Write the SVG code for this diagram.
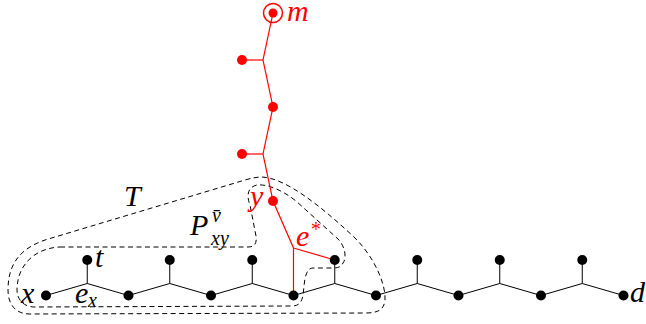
<svg xmlns="http://www.w3.org/2000/svg" width="646" height="324" viewBox="0 0 646 324">
<style>
.e{stroke:#000;stroke-width:1;fill:none}
.r{stroke:#ff0000;stroke-width:1.2;fill:none}
.d{stroke:#000;stroke-width:1;fill:none;stroke-dasharray:5 3.5}
.n{fill:#000}
.rn{fill:#ff0000}
.lbl{font-style:italic;font-size:30px;fill:#000}
.s{font-size:20px}
.red{fill:#ff0000}
</style>
<rect width="646" height="324" fill="#fff"/>
<g id="contours">
<path id="T-region" class="d" d="M 262,177 C 285,178 320,205 355,238 C 375,258 386,285 385,300 C 384,310 378,313 365,313 L 30,314 C 12,314 8,300 8,290 C 8,262 22,248 45,240 L 245,180 C 252,178 257,177 262,177 Z"/>
<path id="P-region" class="d" d="M 60,247 L 248,247 C 255,247 257,243 256,236 L 250,205 C 246,195 248,187 257,185 C 268,184 282,190 296,201 L 338,239 C 345,246 347,258 343,263 C 341,267 338,268 333,268 L 313,268 C 307,268 305,276 304,286 C 303,296 303,306 292,306 L 35,307 C 22,307 17,298 17,290 C 17,265 35,248 60,247 Z"/>
</g>
<g id="connectors">
<polyline class="e" points="46,295.5 87.25,283.5 128.5,295.5 169.75,283.5 211,295.5 252.25,283.5 293.5,295.5 334.75,283.5 376,295.5 417.25,283.5 458.5,295.5 499.75,283.5 541,295.5 582.25,283.5 623.5,295.5"/>
<line class="e" x1="87.25" y1="260" x2="87.25" y2="283.5"/>
<line class="e" x1="169.75" y1="260" x2="169.75" y2="283.5"/>
<line class="e" x1="252.25" y1="260" x2="252.25" y2="283.5"/>
<line class="e" x1="334.75" y1="260" x2="334.75" y2="283.5"/>
<line class="e" x1="417.25" y1="260" x2="417.25" y2="283.5"/>
<line class="e" x1="499.75" y1="260" x2="499.75" y2="283.5"/>
<line class="e" x1="582.25" y1="260" x2="582.25" y2="283.5"/>
<polyline class="r" points="273,13 263,60 273,107 263,154 273,201 293.5,248 293.5,295.5"/>
<line class="r" x1="242" y1="60" x2="263" y2="60"/>
<line class="r" x1="242" y1="154" x2="263" y2="154"/>
<line id="e-star" class="r" x1="293.5" y1="248" x2="334.75" y2="260"/>
</g>
<g font-family="Liberation Serif, Times New Roman, serif">
<g id="nodes">
<g id="x"><circle class="n" cx="46" cy="295.5" r="5"/><text class="lbl" x="21" y="303">x</text></g>
<g id="t"><circle class="n" cx="87.25" cy="260" r="5"/><text class="lbl" x="95" y="267">t</text></g>
<g id="n2"><circle class="n" cx="128.5" cy="295.5" r="5"/></g>
<g id="l2"><circle class="n" cx="169.75" cy="260" r="5"/></g>
<g id="n3"><circle class="n" cx="211" cy="295.5" r="5"/></g>
<g id="l3"><circle class="n" cx="252.25" cy="260" r="5"/></g>
<g id="n4"><circle class="n" cx="293.5" cy="295.5" r="5"/></g>
<g id="l4"><circle class="n" cx="334.75" cy="260" r="5"/></g>
<g id="n5"><circle class="n" cx="376" cy="295.5" r="5"/></g>
<g id="l5"><circle class="n" cx="417.25" cy="260" r="5"/></g>
<g id="n6"><circle class="n" cx="458.5" cy="295.5" r="5"/></g>
<g id="l6"><circle class="n" cx="499.75" cy="260" r="5"/></g>
<g id="n7"><circle class="n" cx="541" cy="295.5" r="5"/></g>
<g id="l7"><circle class="n" cx="582.25" cy="260" r="5"/></g>
<g id="d"><circle class="n" cx="623.5" cy="295.5" r="5"/><text class="lbl" x="630" y="302">d</text></g>
<g id="m"><circle cx="273" cy="13" r="9.5" fill="none" stroke="#ff0000" stroke-width="1.5"/><circle class="rn" cx="273" cy="13" r="4.5"/><text class="lbl red" x="287" y="21">m</text></g>
<g id="r1"><circle class="rn" cx="242" cy="60" r="5"/></g>
<g id="r2"><circle class="rn" cx="273" cy="107" r="5"/></g>
<g id="r3"><circle class="rn" cx="242" cy="154" r="5"/></g>
<g id="y"><circle class="rn" cx="273" cy="201" r="5"/><text class="lbl red" x="250" y="206">y</text></g>
</g>
<g id="labels">
<text class="lbl" x="124" y="206">T</text>
<text class="lbl" x="190" y="235">P</text>
<text class="lbl s" x="212" y="222">v̄</text>
<text class="lbl s" x="211" y="245">xy</text>
<text class="lbl red" x="296" y="246">e</text>
<text class="lbl s red" x="310" y="236">*</text>
<text class="lbl" x="75" y="303">e</text>
<text class="lbl s" x="88" y="307">x</text>
</g>
</g>
</svg>
